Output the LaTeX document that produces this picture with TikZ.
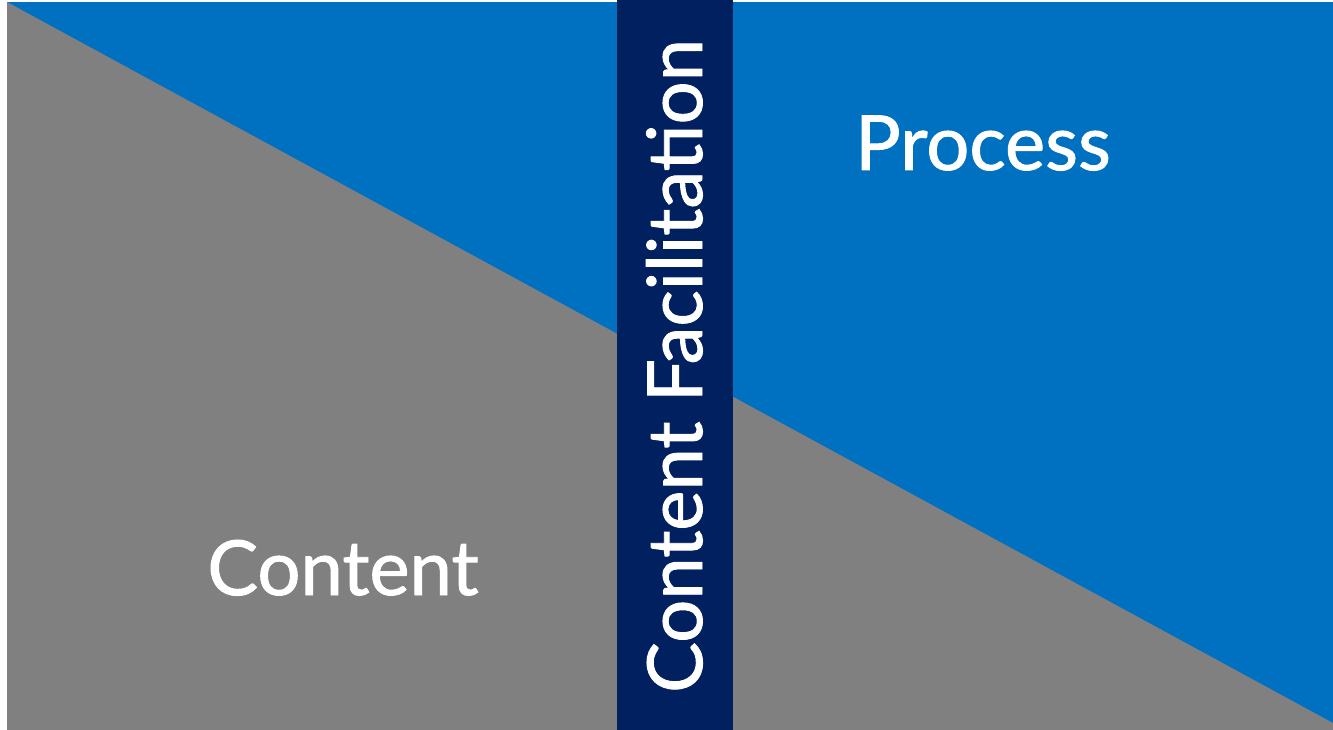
\documentclass[tikz,border=0pt]{standalone}
\usepackage{fontspec}
\setmainfont{Lato}
\newfontfamily\labelfont[FakeBold=1.2]{Lato}
\definecolor{procblue}{HTML}{0070C0}
\definecolor{contgray}{HTML}{808080}
\definecolor{barnavy}{HTML}{002060}
\begin{document}
\begin{tikzpicture}[x=1pt,y=-1pt,
  label text/.style={text=white,font=\labelfont\fontsize{76}{82}\selectfont,inner sep=0pt}]
\useasboundingbox (0,0) rectangle (1333,730);
\fill[white] (0,0) rectangle (1333,730);
% process field (upper right)
\fill[procblue] (7,2) rectangle (1333,730);
% content wedge (lower left)
\fill[contgray] (7,2) -- (1333,723) -- (1333,730) -- (7,730) -- cycle;
% facilitation bar
\fill[barnavy] (617,0) rectangle (733,730);
\node[label text,anchor=base] (process) at (983,170) {Process};
\node[label text,anchor=base] (content) at (343,595) {Content};
\node[label text,anchor=base,rotate=90] (facil) at (702,366) {Content Facilitation};
\end{tikzpicture}
\end{document}
